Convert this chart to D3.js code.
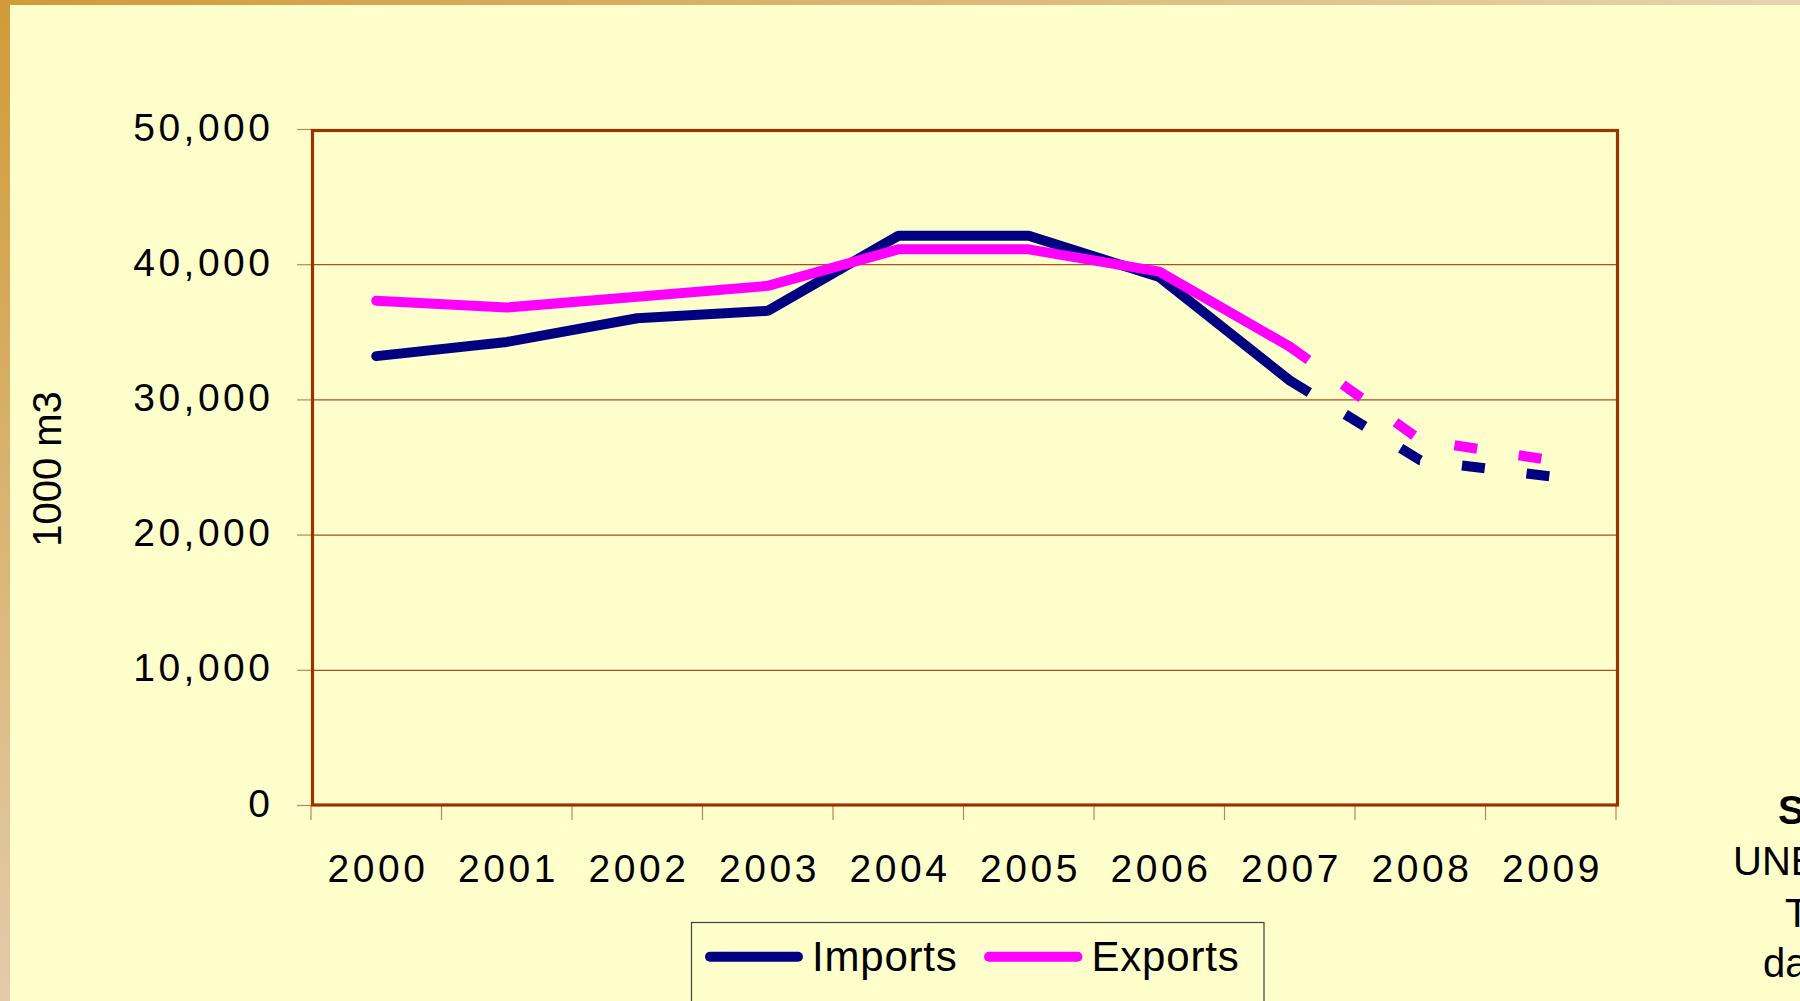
<!DOCTYPE html>
<html>
<head>
<meta charset="utf-8">
<script src="https://cdn.jsdelivr.net/npm/d3@7"></script>
<style>
  html, body { margin: 0; padding: 0; background: #FFFFCC; overflow: hidden; }
  svg { display: block; }
  text { font-family: "Liberation Sans", Arial, sans-serif; fill: #000; }
</style>
</head>
<body>
<script>
// ---- data ----
const years = ["2000","2001","2002","2003","2004","2005","2006","2007","2008","2009"];
const imports = [33200, 34250, 36000, 36550, 42100, 42100, 39050, 31400, 25500, 24300];
const exports = [37300, 36800, 37600, 38400, 41100, 41100, 39450, 33900, 27000, 25500];
const yTicks = [0, 10000, 20000, 30000, 40000, 50000];
const seriesNames = ["Imports", "Exports"];
const seriesColors = ["#000080", "#FF00FF"];
const forecastStart = "2007"; // lines dashed from here on
const yTitle = "1000 m3";
const sourceLines = ["Source:", "UNECE/FAO", "TIMBER", "database"];

// ---- layout ----
const W = 1800, H = 1001;
const plot = { left: 311, right: 1616, top: 129, bottom: 805 };

const svg = d3.select("body").append("svg").attr("width", W).attr("height", H);
const defs = svg.append("defs");
const gTop = defs.append("linearGradient").attr("id", "gTop").attr("x1", 0).attr("x2", 1).attr("y1", 0).attr("y2", 0);
gTop.append("stop").attr("offset", 0).attr("stop-color", "#D09B38");
gTop.append("stop").attr("offset", 1).attr("stop-color", "#E6D3AE");
const gLeft = defs.append("linearGradient").attr("id", "gLeft").attr("x1", 0).attr("x2", 0).attr("y1", 0).attr("y2", 1);
gLeft.append("stop").attr("offset", 0).attr("stop-color", "#D09B38");
gLeft.append("stop").attr("offset", 1).attr("stop-color", "#E3CBAA");

svg.append("rect").attr("width", W).attr("height", H).attr("fill", "#FFFFCC");
svg.append("rect").attr("x", 0).attr("y", 0).attr("width", W).attr("height", 5).attr("fill", "url(#gTop)");
svg.append("rect").attr("x", 0).attr("y", 0).attr("width", 10).attr("height", H).attr("fill", "url(#gLeft)");

const x = d3.scaleBand().domain(years).range([plot.left, plot.right]).padding(0);
const y = d3.scaleLinear().domain([0, 50000]).range([plot.bottom, plot.top]);
const cx = d => x(d) + x.bandwidth() / 2;

// gridlines
svg.append("g").selectAll("line").data(yTicks.filter(t => t > 0 && t < 50000)).join("line")
  .attr("x1", plot.left).attr("x2", plot.right)
  .attr("y1", d => y(d) + 0.5).attr("y2", d => y(d) + 0.5)
  .attr("stroke", "#A8501E").attr("stroke-width", 1.2);

// y axis (ticks & labels)
const yAxis = d3.axisLeft(y).tickValues(yTicks).tickSize(14).tickPadding(0)
  .tickFormat(d3.format(","));
const gy = svg.append("g").attr("transform", `translate(${plot.left},0)`).call(yAxis);
gy.select(".domain").remove();
gy.selectAll(".tick line").attr("stroke", "#C98050").attr("stroke-width", 1.2);
gy.selectAll(".tick text")
  .attr("x", -37.5).attr("dy", null).attr("y", 11)
  .style("font-size", "39px").style("letter-spacing", "3.5px")
  .style("font-family", '"Liberation Sans", Arial, sans-serif').attr("fill", "#000");

// x axis ticks at category boundaries
svg.append("g").selectAll("line").data(d3.range(years.length + 1)).join("line")
  .attr("x1", i => plot.left + i * x.bandwidth()).attr("x2", i => plot.left + i * x.bandwidth())
  .attr("y1", plot.bottom).attr("y2", plot.bottom + 15)
  .attr("stroke", "#C98050").attr("stroke-width", 1.2);
// x labels
svg.append("g").selectAll("text").data(years).join("text")
  .attr("x", d => cx(d) + 1.75).attr("y", 881.7)
  .attr("text-anchor", "middle")
  .style("font-size", "39px").style("letter-spacing", "3.5px")
  .text(d => d);

// plot frame
svg.append("rect")
  .attr("x", plot.left + 1.5).attr("y", plot.top + 1.5)
  .attr("width", plot.right - plot.left).attr("height", plot.bottom - plot.top - 1.5)
  .attr("fill", "none").attr("stroke", "#993300").attr("stroke-width", 3.2);

// y title
svg.append("text")
  .attr("transform", `translate(61,469) rotate(-90)`)
  .attr("text-anchor", "middle")
  .style("font-size", "40px")
  .text(yTitle);

// lines
const fIdx = years.indexOf(forecastStart);
const line = d3.line().x(d => cx(d.year)).y(d => y(d.v));
[imports, exports].forEach((vals, si) => {
  const pts = years.map((yr, i) => ({ year: yr, v: vals[i] }));
  svg.append("path").datum(pts.slice(0, fIdx + 1))
    .attr("d", line).attr("fill", "none")
    .attr("stroke", seriesColors[si]).attr("stroke-width", 10)
    .attr("stroke-linecap", "round").attr("stroke-linejoin", "bevel");
  svg.append("path").datum(pts.slice(fIdx))
    .attr("d", line).attr("fill", "none")
    .attr("stroke", seriesColors[si]).attr("stroke-width", 10)
    .attr("stroke-linecap", "butt").attr("stroke-linejoin", "miter")
    .attr("stroke-dasharray", "23,42");
});

// legend
const lg = svg.append("g");
lg.append("rect").attr("x", 691.5).attr("y", 922.5).attr("width", 572.5).attr("height", 120)
  .attr("fill", "#FFFFCC").attr("stroke", "#404040").attr("stroke-width", 1.2);
const legendItems = [
  { name: seriesNames[0], color: seriesColors[0], x1: 710, x2: 798, tx: 812 },
  { name: seriesNames[1], color: seriesColors[1], x1: 989, x2: 1077.5, tx: 1091.5 }
];
legendItems.forEach(it => {
  lg.append("line").attr("x1", it.x1).attr("x2", it.x2).attr("y1", 956.7).attr("y2", 956.7)
    .attr("stroke", it.color).attr("stroke-width", 10).attr("stroke-linecap", "round");
  lg.append("text").attr("x", it.tx).attr("y", 970.7)
    .style("font-size", "42px").style("letter-spacing", "0.8px")
    .text(it.name);
});

// source note (cut off at right edge, as in the reference)
const srcX = [1778, 1733, 1785, 1763];
const srcY = [824, 875, 926.7, 976.7];
svg.append("g").selectAll("text").data(sourceLines).join("text")
  .attr("x", (d, i) => srcX[i]).attr("y", (d, i) => srcY[i])
  .style("font-size", "40px")
  .style("font-weight", (d, i) => i === 0 ? "bold" : "normal")
  .text(d => d);
</script>
</body>
</html>
